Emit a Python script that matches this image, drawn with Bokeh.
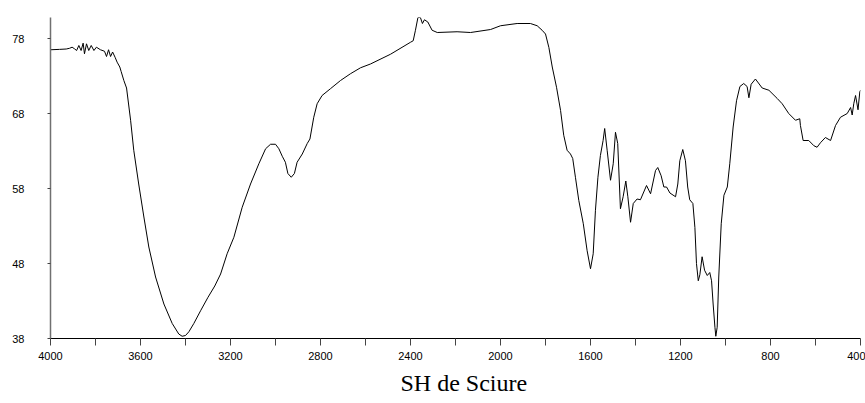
from bokeh.plotting import figure
from bokeh.models import Range1d, FixedTicker, Title
from bokeh.embed import file_html
from bokeh.resources import INLINE

wavenumber = [4000, 3960, 3930, 3915, 3904, 3893, 3884, 3874, 3864, 3855, 3849, 3840, 3830, 3819,
              3807, 3796, 3778, 3760, 3751, 3742, 3733, 3724, 3713, 3704, 3692, 3686, 3674, 3662,
              3644, 3630, 3608, 3585, 3563, 3533, 3496, 3459, 3430, 3415, 3400, 3385, 3363, 3333,
              3300, 3270, 3244, 3215, 3185, 3148, 3111, 3074, 3044, 3022, 3000, 2985, 2970, 2956,
              2945, 2930, 2916, 2904, 2881, 2859, 2847, 2830, 2815, 2793, 2756, 2711, 2667, 2622,
              2578, 2489, 2400, 2388, 2378, 2367, 2356, 2347, 2338, 2323, 2304, 2281, 2193, 2133,
              2044, 2000, 1926, 1867, 1837, 1815, 1800, 1785, 1770, 1751, 1733, 1719, 1704, 1689,
              1679, 1667, 1652, 1632, 1615, 1600, 1588, 1578, 1567, 1556, 1544, 1537, 1526, 1511,
              1499, 1489, 1479, 1467, 1455, 1443, 1434, 1422, 1410, 1393, 1378, 1351, 1333, 1311,
              1301, 1286, 1274, 1262, 1247, 1222, 1212, 1203, 1190, 1178, 1168, 1159, 1145, 1136,
              1129, 1121, 1114, 1104, 1093, 1081, 1070, 1062, 1055, 1047, 1043, 1037, 1030, 1019,
              1007, 992, 981, 966, 951, 936, 919, 904, 896, 886, 867, 837, 807, 770, 748, 719, 689,
              670, 667, 655, 630, 607, 593, 578, 556, 533, 511, 489, 459, 444, 437, 430, 422, 411,
              403, 400]
transmittance = [76.5, 76.55, 76.6, 76.7, 76.84, 76.62, 76.4, 77.07, 76.4, 77.38, 75.96, 77.29, 76.4,
                 77.07, 76.4, 76.84, 76.5, 76.3, 75.6, 76.5, 75.6, 76.2, 75.5, 74.85, 74.2, 73.6,
                 72.4, 71.4, 67.1, 63.1, 58.6, 54.2, 50.2, 46.2, 42.6, 40.0, 38.6, 38.3, 38.4, 38.9,
                 40.0, 41.7, 43.5, 45.0, 46.6, 49.3, 51.5, 55.5, 58.6, 61.3, 63.3, 63.9, 63.9, 63.3,
                 62.3, 61.5, 60.0, 59.5, 60.0, 61.5, 62.6, 64.0, 64.6, 67.5, 69.3, 70.4, 71.3, 72.4,
                 73.3, 74.1, 74.6, 75.9, 77.5, 77.7, 79.1, 80.8, 80.8, 80.0, 80.5, 80.2, 79.1, 78.8,
                 78.9, 78.8, 79.2, 79.7, 80.0, 80.0, 79.7, 79.1, 78.6, 76.8, 74.2, 71.5, 68.4, 65.1,
                 63.1, 62.6, 62.0, 59.5, 56.4, 53.3, 49.7, 47.3, 49.3, 55.1, 59.5, 62.4, 64.4, 66.0,
                 63.1, 59.1, 61.3, 65.5, 64.0, 55.3, 56.9, 59.0, 56.9, 53.5, 56.0, 56.6, 56.5, 58.4,
                 57.3, 60.4, 60.8, 59.7, 58.2, 58.2, 57.4, 56.9, 58.6, 61.7, 63.2, 61.7, 58.2, 56.5,
                 56.0, 52.8, 48.0, 45.7, 46.5, 48.9, 47.1, 46.4, 46.8, 45.7, 42.6, 39.5, 38.3, 39.5,
                 46.2, 53.3, 57.1, 58.2, 61.3, 66.2, 69.7, 71.6, 72.0, 71.6, 70.1, 71.9, 72.6, 71.4,
                 71.1, 70.0, 69.3, 68.0, 67.1, 67.3, 66.4, 64.4, 64.4, 63.7, 63.5, 64.1, 64.8, 64.4,
                 66.4, 67.5, 68.0, 68.8, 67.8, 69.3, 70.4, 68.5, 70.9, 71.1]

x_major_ticks = [4000, 3600, 3200, 2800, 2400, 2000, 1600, 1200, 800, 400]
x_minor_ticks = [3800, 3400, 3000, 2600, 2200, 1800, 1400, 1000, 600]
y_ticks = [38, 48, 58, 68, 78]
title_text = "SH de Sciure"

p = figure(width=865, height=403, output_backend="svg", toolbar_location=None,
           x_range=Range1d(4000, 400), y_range=Range1d(38, 80.8),
           min_border_left=50, min_border_right=5, min_border_top=17, min_border_bottom=65)
p.outline_line_color = None
p.xgrid.visible = False
p.ygrid.visible = False
p.background_fill_color = "white"
p.border_fill_color = "white"

p.line(wavenumber, transmittance, line_color="black", line_width=1)

xa = p.xaxis[0]
xa.ticker = FixedTicker(ticks=x_major_ticks, minor_ticks=x_minor_ticks)
xa.major_tick_out = 7
xa.major_tick_in = 0
xa.minor_tick_out = 7
xa.minor_tick_in = 0
xa.major_label_standoff = 6
xa.major_label_text_font = "Liberation Sans"
xa.major_label_text_font_size = "11px"
xa.major_label_text_color = "black"
xa.axis_line_color = "black"
xa.major_tick_line_color = "#444444"
xa.minor_tick_line_color = "#444444"

ya = p.yaxis[0]
ya.ticker = FixedTicker(ticks=y_ticks, minor_ticks=[])
ya.major_tick_out = 3
ya.major_tick_in = 0
ya.minor_tick_out = 0
ya.minor_tick_in = 0
ya.major_label_standoff = 23
ya.major_label_text_font = "Liberation Sans"
ya.major_label_text_font_size = "11px"
ya.major_label_text_color = "black"
ya.axis_line_color = "#707070"
ya.axis_line_width = 1.5
ya.major_tick_line_color = "#444444"

t = Title(text=title_text, text_font="Liberation Serif", text_font_size="24px",
          text_font_style="normal", text_color="black", align="left", offset=350, standoff=10)
p.add_layout(t, "below")

open("out.html", "w").write(file_html(p, INLINE))
